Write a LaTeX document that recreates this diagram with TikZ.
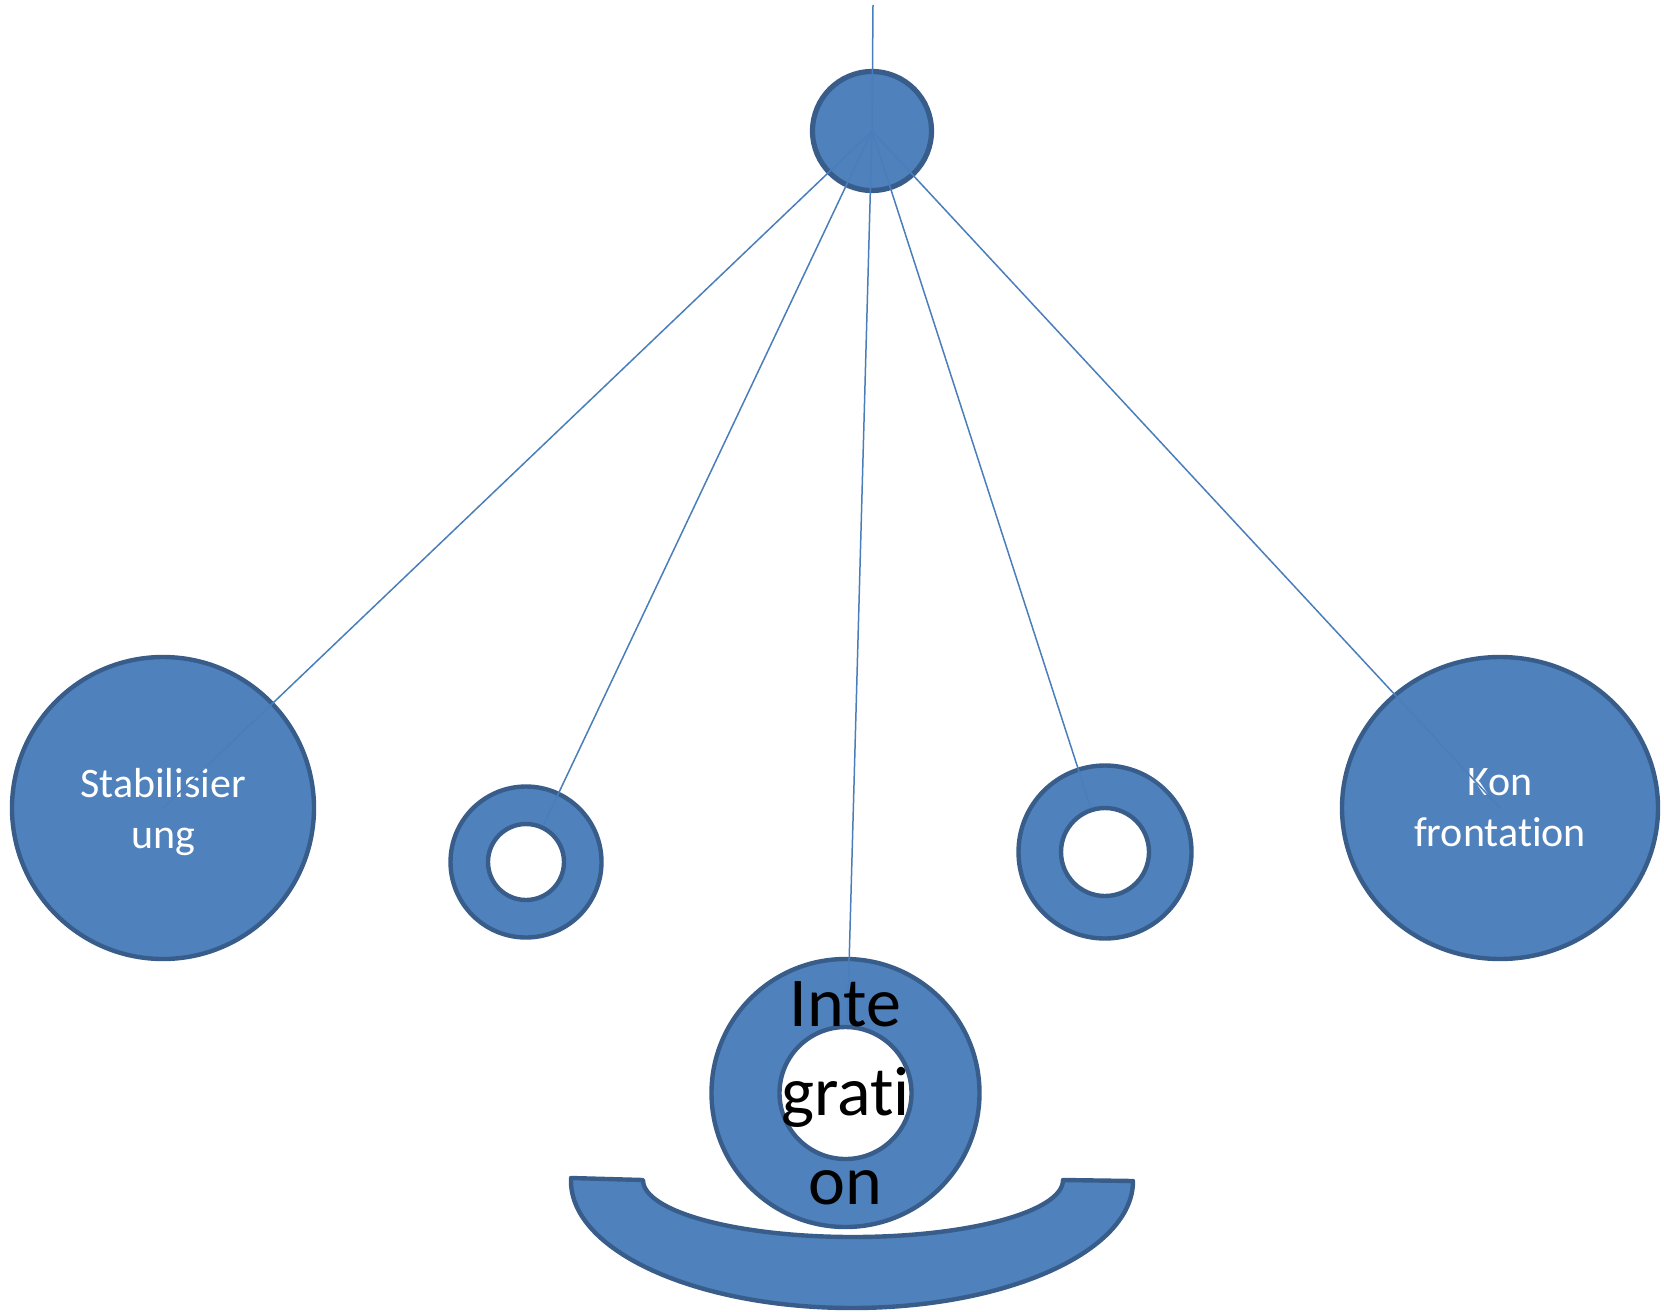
\documentclass[tikz,border=0pt]{standalone}
\usepackage{fontspec}
\setmainfont{Carlito}[Ligatures={NoCommon,NoRare},RawFeature={-liga;-dlig;-clig}]
\usetikzlibrary{shapes.geometric}
\definecolor{ofill}{HTML}{4F81BD}
\definecolor{oedge}{HTML}{385D8A}
\definecolor{oline}{HTML}{4A7EBB}
\begin{document}
\begin{tikzpicture}[x=0.5pt,y=-0.5pt,
  disc/.style={circle,fill=ofill,draw=oedge,line width=2.2pt,inner sep=0pt},
  hole/.style={circle,fill=white,draw=oedge,line width=2.2pt,inner sep=0pt},
  conn/.style={draw=oline,line width=0.75pt},
  lbl/.style={text=white,font=\fontsize{21pt}{25.5pt}\selectfont,align=center},
  biglbl/.style={text=black,font=\fontsize{35pt}{44.5pt}\selectfont,align=center,inner sep=0pt}]
\useasboundingbox (0,0) rectangle (1664,1311);

% bowl
\draw[fill=ofill,draw=oedge,line width=2.2pt,line join=round]
  (571,1178) -- (643,1180)
  arc[start angle=180,end angle=360,x radius=105pt,y radius=28.5pt]
  -- (1133,1181)
  arc[start angle=0,end angle=-180,x radius=140.5pt,y radius=63.5pt]
  -- cycle;

% top hub
\node[disc,line width=2.6pt,minimum size=59.5pt] (top) at (872,131) {};
\coordinate (topend) at (873,5);

% big circles
\node[disc,minimum size=151pt,lbl] (stab) at (163,808) {\rule{0pt}{19pt}Stabilisier\\ung};
\node[disc,ellipse,minimum width=158pt,minimum height=151pt,lbl] (konf) at (1500,808) {Kon\\frontation};

% rings
\node[disc,minimum size=75.5pt] (lring) at (526,862) {};
\node[hole,minimum size=38pt] (lhole) at (526,862) {};
\node[disc,minimum size=86.5pt] (rring) at (1105,852) {};
\node[hole,minimum size=44pt] (rhole) at (1105,852) {};
\node[disc,minimum size=134pt] (integ) at (845.5,1093) {};
\node[hole,minimum size=66pt] (integhole) at (845.5,1093) {};

% connectors
\draw[conn] (topend) -- (top.center);
\draw[conn] (top.center) -- (stab.center);
\draw[conn] (top.center) -- (lhole);
\draw[conn] (top.center) -- (integhole);
\draw[conn] (top.center) -- (rhole);
\draw[conn] (top.center) -- (konf.center);

% integration label
\node[biglbl] (integlbl) at (integ.center) {Inte\\grati\\on};
\end{tikzpicture}
\end{document}
